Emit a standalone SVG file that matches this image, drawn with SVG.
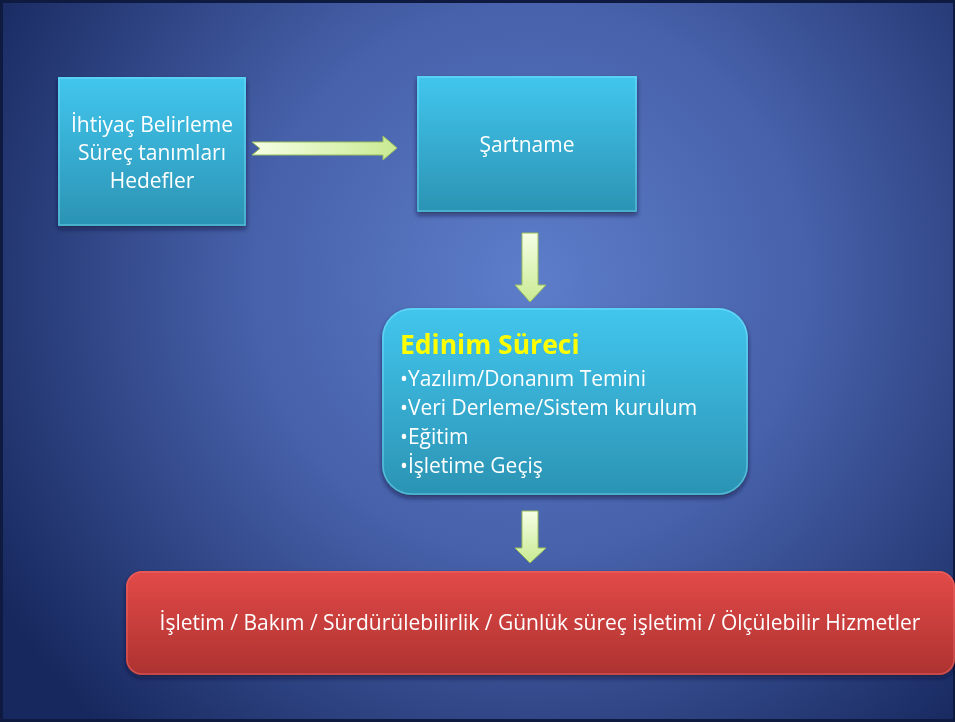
<svg xmlns="http://www.w3.org/2000/svg" width="955" height="722" viewBox="0 0 955 722">
<defs>
<radialGradient id="bg" cx="530" cy="280" r="620" gradientUnits="userSpaceOnUse">
<stop offset="0" stop-color="#5d7dca"/>
<stop offset="0.45" stop-color="#4761aa"/>
<stop offset="1" stop-color="#17285e"/>
</radialGradient>
<linearGradient id="cyan" x1="0" y1="0" x2="0" y2="1">
<stop offset="0" stop-color="#42c6ee"/>
<stop offset="1" stop-color="#2b93b3"/>
</linearGradient>
<linearGradient id="red" x1="0" y1="0" x2="0" y2="1">
<stop offset="0" stop-color="#e24a48"/>
<stop offset="1" stop-color="#ad3230"/>
</linearGradient>
<linearGradient id="grn" x1="0" y1="0" x2="1" y2="0">
<stop offset="0" stop-color="#f6ffe6"/>
<stop offset="1" stop-color="#c9ea92"/>
</linearGradient>
<linearGradient id="grnv" x1="0" y1="0" x2="0" y2="1">
<stop offset="0" stop-color="#f6ffe6"/>
<stop offset="1" stop-color="#c9ea92"/>
</linearGradient>
<filter id="sh" x="-10%" y="-10%" width="120%" height="130%">
<feDropShadow dx="0" dy="3" stdDeviation="2.5" flood-color="#0a1030" flood-opacity="0.6"/>
</filter>
<style>
.t{font-family:"Open Sans","Noto Sans","DejaVu Sans",sans-serif;fill:#ffffff;font-size:21px}
.c{text-anchor:middle}
.arrow{stroke:#9cbf5a;stroke-width:1}
.bev{fill:none;stroke:#8ae6ff;stroke-width:1.5;opacity:0.45}
</style>
</defs>
<rect x="0" y="0" width="955" height="722" fill="#0e1a40"/>
<rect x="3" y="3" width="950" height="716" fill="url(#bg)"/>

<g id="connectors">
<path class="arrow" fill="url(#grn)" d="M252,142 L383,142 L383,136 L397,148 L383,160 L383,155 L252,155 L260,148.5 Z"/>
<path class="arrow" fill="url(#grnv)" d="M522,233 L538,233 L538,285 L546,285 L530,302 L515,285 L522,285 Z"/>
<path class="arrow" fill="url(#grnv)" d="M522,511 L538,511 L538,548 L546,548 L530,563 L515,548 L522,548 Z"/>
</g>

<g id="node-ihtiyac" filter="url(#sh)">
<rect x="58" y="77" width="188" height="149" fill="url(#cyan)"/>
<rect x="59" y="78" width="186" height="147" class="bev"/>
<text class="t c" x="152" y="132">İhtiyaç Belirleme</text>
<text class="t c" x="152" y="160">Süreç tanımları</text>
<text class="t c" x="152" y="188">Hedefler</text>
</g>

<g id="node-sartname" filter="url(#sh)">
<rect x="417" y="76" width="220" height="136" fill="url(#cyan)"/>
<rect x="418" y="77" width="218" height="134" class="bev"/>
<text class="t c" x="527" y="152">Şartname</text>
</g>

<g id="node-edinim" filter="url(#sh)">
<rect x="382" y="308" width="366" height="187" rx="30" fill="url(#cyan)"/>
<rect x="383" y="309" width="364" height="185" rx="29" class="bev"/>
<text x="400" y="354" style="font-family:'Open Sans','Noto Sans',sans-serif;font-weight:bold;font-size:26.5px;fill:#ffff00">Edinim Süreci</text>
<text class="t" x="400" y="386">•Yazılım/Donanım Temini</text>
<text class="t" x="400" y="415">•Veri Derleme/Sistem kurulum</text>
<text class="t" x="400" y="444">•Eğitim</text>
<text class="t" x="400" y="473">•İşletime Geçiş</text>
</g>

<g id="node-isletim" filter="url(#sh)">
<rect x="126" y="571" width="829" height="104" rx="16" fill="url(#red)"/>
<rect x="127" y="572" width="827" height="102" rx="15" fill="none" stroke="#f07070" stroke-width="1.5" opacity="0.5"/>
<text class="t c" x="540" y="630">İşletim / Bakım / Sürdürülebilirlik / Günlük süreç işletimi / Ölçülebilir Hizmetler</text>
</g>
</svg>
